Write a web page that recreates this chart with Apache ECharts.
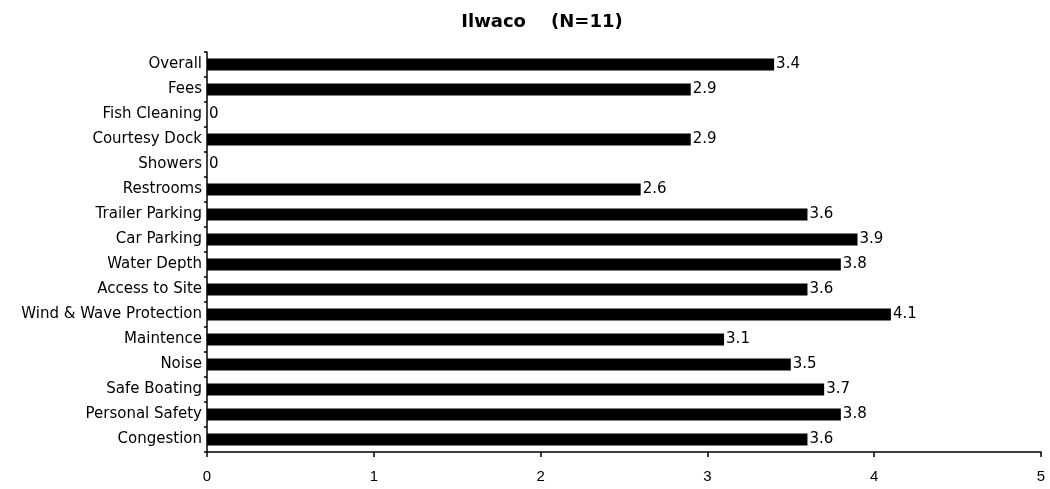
<!DOCTYPE html>
<html>
<head>
<meta charset="utf-8">
<script src="https://cdn.jsdelivr.net/npm/echarts@6/dist/echarts.min.js"></script>
<style>
  html, body { margin: 0; padding: 0; background: #fff; }
  #chart { width: 1050px; height: 489px; }
</style>
</head>
<body>
<div id="chart"></div>
<script>
// Ratings by facility item, Ilwaco marina survey
const categories = [
  "Overall", "Fees", "Fish Cleaning", "Courtesy Dock", "Showers", "Restrooms",
  "Trailer Parking", "Car Parking", "Water Depth", "Access to Site",
  "Wind & Wave Protection", "Maintence", "Noise", "Safe Boating",
  "Personal Safety", "Congestion"
];
const ratings = [3.4, 2.9, 0, 2.9, 0, 2.6, 3.6, 3.9, 3.8, 3.6, 4.1, 3.1, 3.5, 3.7, 3.8, 3.6];
const xTicks = [0, 1, 2, 3, 4, 5];

const FONT = 'DejaVu Sans';

const chart = echarts.init(document.getElementById('chart'));
chart.setOption({
  animation: false,
  backgroundColor: '#ffffff',
  title: {
    text: 'Ilwaco    (N=11)',
    left: 537,
    textAlign: 'center',
    top: 8,
    textStyle: { fontFamily: FONT, fontSize: 18, fontWeight: 'bold', color: '#000' }
  },
  grid: { left: 207, right: 9, top: 52, bottom: 37 },
  xAxis: {
    type: 'value',
    min: xTicks[0],
    max: xTicks[xTicks.length - 1],
    interval: 1,
    axisLine: { show: true, lineStyle: { color: '#000', width: 1.5 } },
    axisTick: { show: true, length: 5, lineStyle: { color: '#000', width: 1.5 } },
    splitLine: { show: false },
    axisLabel: {
      margin: 17,
      color: '#000',
      fontFamily: 'Liberation Sans Narrow, Liberation Sans',
      fontSize: 15,
      formatter: v => xTicks.includes(v) ? String(v) : ''
    }
  },
  yAxis: {
    type: 'category',
    data: categories,
    inverse: true,
    axisLine: { show: true, lineStyle: { color: '#000', width: 1.5 } },
    axisTick: { show: true, length: 3, lineStyle: { color: '#000', width: 1.5 } },
    axisLabel: {
      margin: 5,
      color: '#000',
      fontFamily: FONT,
      fontSize: 15
    }
  },
  series: [{
    type: 'bar',
    data: ratings,
    barWidth: 12,
    itemStyle: { color: '#000' },
    label: {
      show: true,
      position: 'right',
      distance: 2,
      color: '#000',
      fontFamily: FONT,
      fontSize: 15,
      formatter: p => String(p.value)
    }
  }]
});
</script>
</body>
</html>
